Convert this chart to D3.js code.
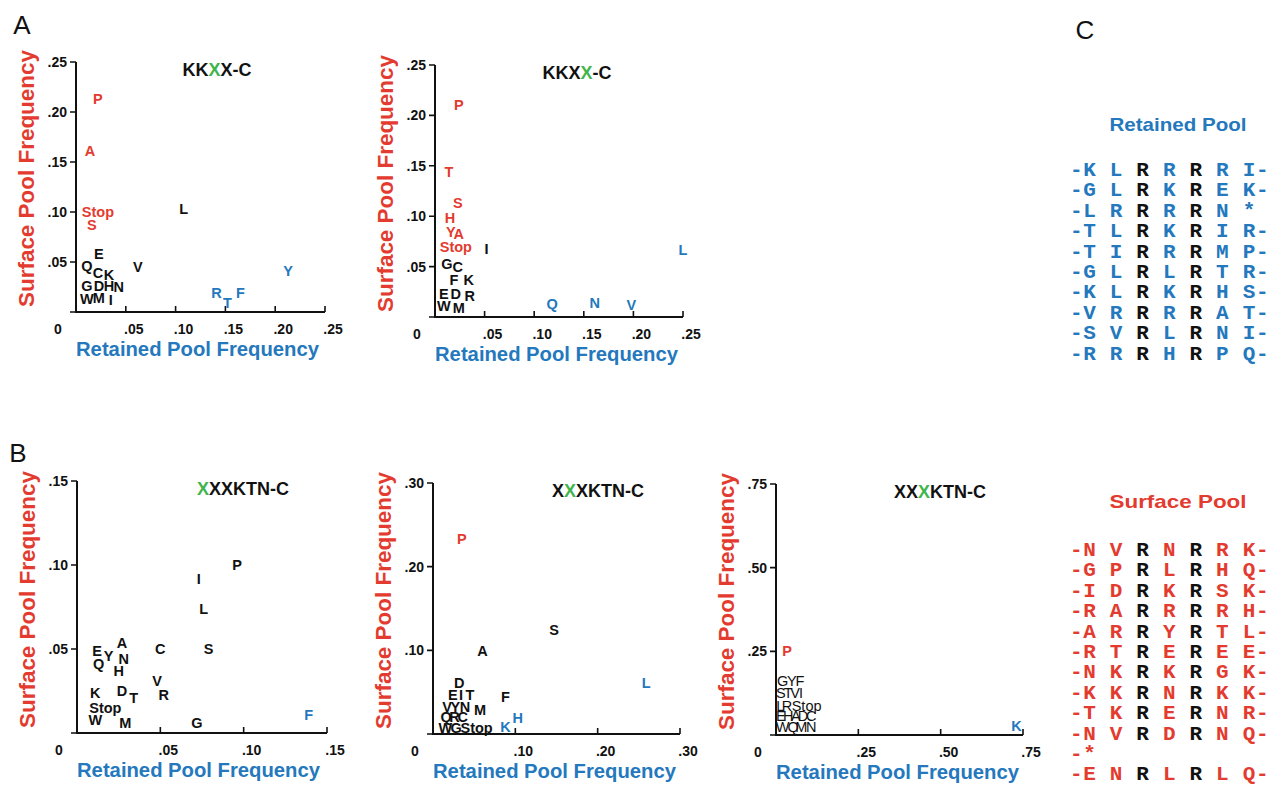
<!DOCTYPE html>
<html>
<head>
<meta charset="utf-8">
<script src="https://cdn.jsdelivr.net/npm/d3@7"></script>
<style>
  body { margin: 0; background: #fff; }
  svg { display: block; }
</style>
</head>
<body>
<svg id="fig" width="1270" height="788"></svg>
<script>
const RED = "#e33b2f", BLUE = "#2478bd", GREEN = "#40b54b";
const SANS = "'Liberation Sans', Arial, Helvetica, sans-serif";
const MONO = "'Liberation Mono', 'Courier New', monospace";

// class: s = surface enriched (red), r = retained enriched (blue), n = neither
// A, KKXX-C (third position)
const aaA1   = ["P","A","Stop","S","L","E","Q","C","K","V","G","D","H","N","W","M","I","Y","R","T","F"];
const retA1  = [.022,.014,.022,.016,.108,.023,.011,.022,.033,.062,.011,.023,.033,.043,.011,.023,.035,.213,.141,.152,.165];
const surfA1 = [.213,.161,.100,.087,.103,.058,.046,.039,.037,.045,.026,.026,.026,.025,.013,.014,.012,.041,.019,.009,.019];
const clsA1  = ["s","s","s","s","n","n","n","n","n","n","n","n","n","n","n","n","n","r","r","r","r"];

// A, KKXX-C (fourth position)
const aaA2   = ["P","T","S","H","Y","A","Stop","I","G","C","F","K","E","D","R","W","M","L","Q","N","V"];
const retA2  = [.024,.014,.023,.015,.016,.024,.021,.052,.012,.023,.019,.034,.009,.021,.035,.009,.024,.250,.118,.161,.198];
const surfA2 = [.211,.144,.113,.098,.085,.083,.070,.068,.053,.050,.037,.037,.023,.023,.021,.011,.009,.067,.013,.014,.012];
const clsA2  = ["s","s","s","s","s","s","s","n","n","n","n","n","n","n","n","n","n","r","r","r","r"];

// B, XXXKTN-C (first position)
const aaB1   = ["P","I","L","S","C","A","E","Y","N","Q","H","V","R","D","T","K","Stop","W","M","G","F"];
const retB1  = [.096,.073,.076,.079,.050,.027,.012,.019,.028,.013,.025,.048,.052,.027,.034,.011,.017,.011,.029,.072,.139];
const surfB1 = [.100,.092,.074,.050,.050,.054,.049,.046,.044,.041,.037,.031,.023,.025,.021,.024,.015,.008,.006,.006,.011];
const clsB1  = ["n","n","n","n","n","n","n","n","n","n","n","n","n","n","n","n","n","n","n","n","r"];

// B, XXXKTN-C (second position)
const aaB2   = ["P","S","A","D","E","I","T","F","V","Y","N","M","Q","R","C","W","G","Stop","K","H","L"];
const retB2  = [.035,.147,.060,.032,.024,.034,.045,.088,.017,.027,.039,.057,.016,.026,.036,.015,.028,.053,.088,.103,.259];
const surfB2 = [.233,.125,.099,.061,.047,.047,.047,.044,.033,.033,.032,.029,.020,.020,.020,.008,.008,.008,.009,.019,.061];
const clsB2  = ["s","n","n","n","n","n","n","n","n","n","n","n","n","n","n","n","n","n","r","r","r"];

// B, XXXKTN-C (third position)
const aaB3   = ["P","K","G","Y","F","S","T","V","I","L","R","Stop","E","H","A","D","C","W","Q","M","N"];
const retB3  = [.034,.730,.020,.048,.073,.015,.037,.058,.076,.013,.033,.093,.015,.037,.060,.082,.107,.020,.052,.077,.107];
const surfB3 = [.252,.027,.163,.163,.163,.125,.125,.125,.125,.088,.088,.088,.057,.057,.057,.057,.057,.025,.025,.025,.025];
const clsB3  = ["s","r","n","n","n","n","n","n","n","n","n","n","n","n","n","n","n","n","n","n","n"];

// C, sequences
const seqRetained = ["KLRRRRI","GLRKREK","LRRRRN*","TLRKRIR","TIRRRMP","GLRLRTR","KLRKRHS","VRRRRAT","SVRLRNI","RRRHRPQ"];
const seqSurface  = ["NVRNRRK","GPRLRHQ","IDRKRSK","RARRRRH","ARRYRTL","RTREREE","NKRKRGK","KKRNRKK","TKRERNR","NVRDRNQ","*","ENRLRLQ"];

const panels = [
  { x0: 76,  y0: 312, w: 249, h: 250, max: 0.25, step: 0.05, title: "KKXX-C",   green: 2, tdx: 141, labels: aaA1, ret: retA1, surf: surfA1, cls: clsA1 },
  { x0: 435, y0: 317, w: 248, h: 252, max: 0.25, step: 0.05, title: "KKXX-C",   green: 3, tdx: 142, labels: aaA2, ret: retA2, surf: surfA2, cls: clsA2 },
  { x0: 77,  y0: 733, w: 250, h: 252, max: 0.15, step: 0.05, title: "XXXKTN-C", green: 0, tdx: 166, labels: aaB1, ret: retB1, surf: surfB1, cls: clsB1 },
  { x0: 433, y0: 734, w: 247, h: 251, max: 0.30, step: 0.10, title: "XXXKTN-C", green: 1, tdx: 165, labels: aaB2, ret: retB2, surf: surfB2, cls: clsB2 },
  { x0: 776, y0: 735, w: 247, h: 251, max: 0.75, step: 0.25, title: "XXXKTN-C", green: 2, tdx: 164, labels: aaB3, ret: retB3, surf: surfB3, cls: clsB3, thin: true }
];

const clsColor = { s: RED, r: BLUE, n: "#111" };
const fmt = v => v === 0 ? "0" : d3.format(".2f")(v).replace(/^0/, "");

const svg = d3.select("#fig");

panels.forEach(p => {
  const x = d3.scaleLinear().domain([0, p.max]).range([p.x0, p.x0 + p.w]);
  const y = d3.scaleLinear().domain([0, p.max]).range([p.y0, p.y0 - p.h]);
  const ticks = d3.range(0, p.max + p.step / 2, p.step);

  const g = svg.append("g");

  // frame: y axis down to the origin, then along x
  g.append("path")
    .attr("d", `M${x(0)},${y(p.max)}V${y(0)}H${x(p.max)}`)
    .attr("fill", "none")
    .attr("stroke", "#111")
    .attr("stroke-width", 2);

  // y ticks point out, x ticks point in
  g.append("path")
    .attr("d", ticks.map(d => `M${x(0) - 6},${y(d)}H${x(0)}`).join("")
      + ticks.slice(1).map(d => `M${x(d)},${y(0)}V${y(0) - 6}`).join(""))
    .attr("fill", "none")
    .attr("stroke", "#111")
    .attr("stroke-width", 1.6);

  const tl = g.append("g")
    .attr("fill", "#111")
    .style("font-family", SANS)
    .style("font-weight", "bold")
    .style("font-size", "14px");

  tl.selectAll("text.yl")
    .data(ticks.slice(1))
    .join("text")
    .attr("class", "yl")
    .attr("x", x(0) - 9)
    .attr("y", d => y(d))
    .attr("dy", "0.36em")
    .attr("text-anchor", "end")
    .text(fmt);

  tl.selectAll("text.xl")
    .data(ticks)
    .join("text")
    .attr("class", "xl")
    .attr("x", d => x(d) + (d === 0 ? -18 : 8))
    .attr("y", y(0) + 22)
    .attr("text-anchor", "middle")
    .text(fmt);

  // axis titles
  g.append("text")
    .attr("transform", `translate(${p.x0 - 42},${p.y0 - 5}) rotate(-90)`)
    .attr("text-anchor", "start")
    .attr("textLength", 257)
    .attr("lengthAdjust", "spacingAndGlyphs")
    .attr("fill", RED)
    .style("font-family", SANS).style("font-weight", "bold").style("font-size", "22px")
    .text("Surface Pool Frequency");

  g.append("text")
    .attr("x", p.x0)
    .attr("y", p.y0 + 44)
    .attr("textLength", 243)
    .attr("lengthAdjust", "spacingAndGlyphs")
    .attr("fill", BLUE)
    .style("font-family", SANS).style("font-weight", "bold").style("font-size", "20px")
    .text("Retained Pool Frequency");

  // panel title with the varied position in green
  const t = g.append("text")
    .attr("x", p.x0 + p.tdx)
    .attr("y", p.y0 - p.h + 14)
    .attr("text-anchor", "middle")
    .style("font-family", SANS).style("font-weight", "bold").style("font-size", "18px");
  t.selectAll("tspan")
    .data(p.title.split(""))
    .join("tspan")
    .attr("fill", (c, i) => i === p.green ? GREEN : "#111")
    .text(c => c);

  // residues as points
  g.append("g")
    .selectAll("text")
    .data(d3.range(p.labels.length))
    .join("text")
    .attr("x", i => x(p.ret[i]))
    .attr("y", i => y(p.surf[i]))
    .attr("dy", "0.36em")
    .attr("text-anchor", "middle")
    .attr("fill", i => clsColor[p.cls[i]])
    .style("font-family", SANS)
    .style("font-weight", i => (p.thin && p.cls[i] === "n") ? "normal" : "bold")
    .style("font-size", "14.5px")
    .text(i => p.labels[i]);
});

// panel letters
svg.selectAll("text.panel")
  .data([["A", 22, 34], ["B", 18, 462], ["C", 1085, 39]])
  .join("text")
  .attr("class", "panel")
  .attr("x", d => d[1])
  .attr("y", d => d[2])
  .attr("text-anchor", "middle")
  .attr("fill", "#111")
  .style("font-family", SANS)
  .style("font-size", "26px")
  .text(d => d[0]);

// C: sequence lists
const colX = d3.scaleLinear().domain([0, 6]).range([1089.5, 1249]);

function seqBlock(rows, top, title, titleY, color) {
  svg.append("text")
    .attr("x", 1178)
    .attr("y", titleY)
    .attr("text-anchor", "middle")
    .attr("textLength", 137)
    .attr("lengthAdjust", "spacingAndGlyphs")
    .attr("fill", color)
    .style("font-family", SANS).style("font-weight", "bold").style("font-size", "19px")
    .text(title);

  const rowY = i => top + i * 20.4;
  const chars = [];
  rows.forEach((r, ri) => {
    chars.push({ c: "-", pos: -0.5, row: ri, fixed: false });
    r.split("").forEach((c, ci) => chars.push({ c, pos: ci, row: ri, fixed: ci === 2 || ci === 4 }));
    if (!r.includes("*")) chars.push({ c: "-", pos: 6.5, row: ri, fixed: false });
  });

  svg.append("g")
    .selectAll("text")
    .data(chars)
    .join("text")
    .attr("x", d => colX(d.pos))
    .attr("y", d => rowY(d.row))
    .attr("dy", "0.29em")
    .attr("text-anchor", "middle")
    .attr("fill", d => d.fixed ? "#111" : color)
    .style("font-family", MONO).style("font-weight", "bold").style("font-size", "21px")
    .text(d => d.c);
}

seqBlock(seqRetained, 170, "Retained Pool", 131, BLUE);
seqBlock(seqSurface, 550, "Surface Pool", 508, RED);
</script>
</body>
</html>
